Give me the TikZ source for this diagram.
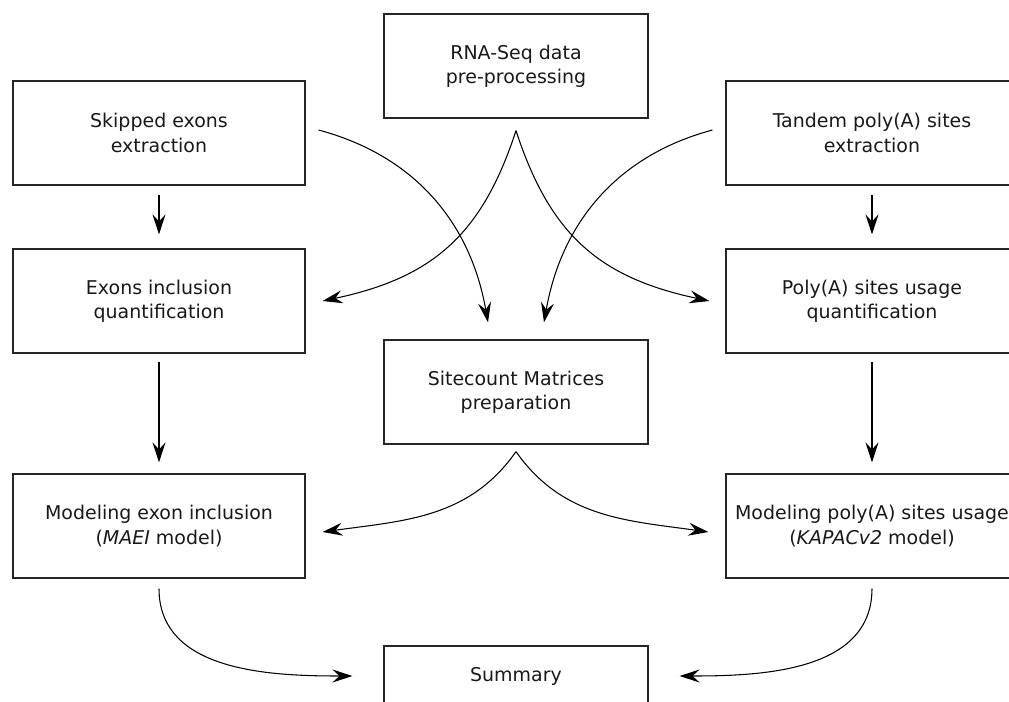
\documentclass[tikz,border=0pt]{standalone}
\usepackage{fontspec}
\setmainfont{DejaVu Sans}
\usetikzlibrary{arrows.meta, positioning}

\begin{document}
\begin{tikzpicture}[x=0.02cm, y=0.02cm,
    box/.style={rectangle, draw=black!85, line width=0.7pt, minimum width=5.84cm, minimum height=2.08cm,
        inner xsep=1pt, align=center, text=black!90, font=\fontsize{10.8}{13.9}\selectfont},
    midbox/.style={box, minimum width=5.28cm},
    flow/.style={-{Stealth[length=0.4cm, width=0.26cm, inset=0.14cm]}, line width=0.6pt}]
    \clip (0,0) rectangle (1009,-701);

    % Nodi
    \node[midbox] (rna) at (516,-66) {RNA-Seq data\\pre-processing};
    \node[box] (skip) at (159,-133) {Skipped exons\\extraction};
    \node[box] (tandem) at (872,-133) {Tandem poly(A) sites\\extraction};
    \node[box] (exinc) at (159,-301) {Exons inclusion\\quantification};
    \node[box] (pausage) at (872,-301) {Poly(A) sites usage\\quantification};
    \node[midbox] (site) at (516,-392) {Sitecount Matrices\\preparation};
    \node[box] (maei) at (159,-526) {Modeling exon inclusion\\(\textit{MAEI} model)};
    \node[box] (kapac) at (872,-526) {Modeling poly(A) sites usage\\(\textit{KAPACv2} model)};
    \node[midbox, minimum height=1.2cm] (summary) at (516,-676) {Summary};

    % Frecce dritte
    \draw[flow] ([yshift=-0.18cm]skip.south) -- ([yshift=0.28cm]exinc.north);
    \draw[flow] ([yshift=-0.18cm]tandem.south) -- ([yshift=0.28cm]pausage.north);
    \draw[flow] ([yshift=-0.16cm]exinc.south) -- ([yshift=0.22cm]maei.north);
    \draw[flow] ([yshift=-0.16cm]pausage.south) -- ([yshift=0.22cm]kapac.north);

    % Frecce curve
    \draw[flow] ([yshift=-0.24cm]rna.south) to[out=-108, in=12, looseness=1.1] ([xshift=0.34cm]exinc.east);
    \draw[flow] ([yshift=-0.24cm]rna.south) to[out=-72, in=168, looseness=1.1] ([xshift=-0.32cm]pausage.west);
    \draw[flow] ([shift={(0.26cm,0.06cm)}]skip.east) to[out=-15, in=100] ([shift={(-0.56cm,0.34cm)}]site.north);
    \draw[flow] ([shift={(-0.26cm,0.06cm)}]tandem.west) to[out=195, in=80] ([shift={(0.56cm,0.34cm)}]site.north);
    \draw[flow] ([yshift=-0.14cm]site.south) to[out=-125, in=8] ([shift={(0.34cm,-0.12cm)}]maei.east);
    \draw[flow] ([yshift=-0.14cm]site.south) to[out=-55, in=172] ([shift={(-0.34cm,-0.12cm)}]kapac.west);
    \draw[flow] ([yshift=-0.2cm]maei.south) to[out=-90, in=180] ([xshift=-0.62cm]summary.west);
    \draw[flow] ([yshift=-0.2cm]kapac.south) to[out=-90, in=0] ([xshift=0.62cm]summary.east);
\end{tikzpicture}
\end{document}
